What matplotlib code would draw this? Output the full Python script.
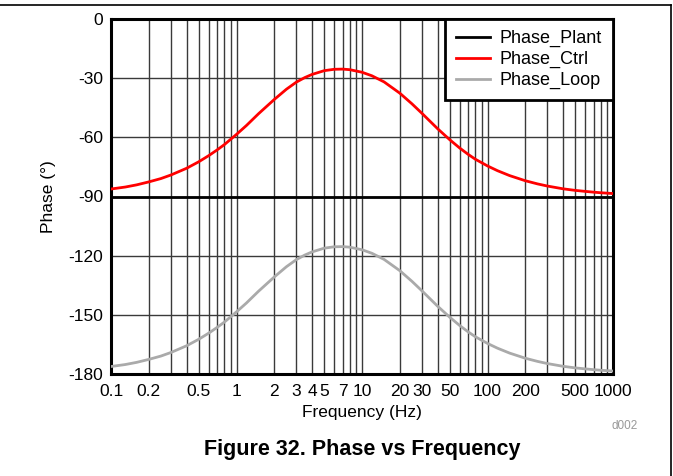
import numpy as np
import matplotlib.pyplot as plt
from matplotlib.lines import Line2D

plt.rcParams['font.family'] = ['Liberation Sans', 'DejaVu Sans']
plt.rcParams['axes.unicode_minus'] = False

# data
freq = [0.1, 0.13, 0.16, 0.2, 0.25, 0.3, 0.4, 0.5, 0.6, 0.7, 0.8, 1.0, 1.2,
        1.5, 2.0, 2.5, 3.0, 3.5, 4.0, 5.0, 6.0, 7.0, 8.0, 10, 12, 15, 20, 25,
        30, 40, 50, 60, 70, 80, 100, 120, 150, 200, 250, 300, 400, 500, 600,
        700, 800, 1000]
phase_plant = [-90] * len(freq)
phase_ctrl = [-86.2, -85.2, -84.1, -82.6, -80.9, -79.1, -75.7, -72.4, -69.3,
              -66.4, -63.7, -58.5, -54.0, -48.0, -40.8, -35.6, -32.0, -29.7,
              -28.1, -26.2, -25.5, -25.4, -25.7, -27.0, -28.8, -31.9, -37.6,
              -43.0, -47.8, -55.6, -61.2, -65.4, -68.6, -71.1, -74.5, -76.9,
              -79.4, -82.0, -83.6, -84.7, -86.1, -86.9, -87.4, -87.8, -88.1,
              -88.5]
phase_loop = [-176.2, -175.2, -174.1, -172.6, -170.9, -169.1, -165.7, -162.4,
              -159.3, -156.4, -153.7, -148.5, -144.0, -138.0, -130.8, -125.6,
              -122.0, -119.7, -118.1, -116.2, -115.5, -115.4, -115.7, -117.0,
              -118.8, -121.9, -127.6, -133.0, -137.8, -145.6, -151.2, -155.4,
              -158.6, -161.1, -164.5, -166.9, -169.4, -172.0, -173.6, -174.7,
              -176.1, -176.9, -177.4, -177.8, -178.1, -178.5]

xticks = [0.1, 0.2, 0.5, 1, 2, 3, 4, 5, 7, 10, 20, 30, 50, 100, 200, 500, 1000]
xtick_labels = ['0.1', '0.2', '0.5', '1', '2', '3', '4', '5', '7', '10', '20',
                '30', '50', '100', '200', '500', '1000']
yticks = [0, -30, -60, -90, -120, -150, -180]

fig = plt.figure(figsize=(6.73, 4.76), dpi=100)
ax = fig.add_axes([111/673, 1 - 374/476, 502/673, 355/476])

# grid lines
for dec in [0.1, 1, 10, 100]:
    for k in range(1, 10):
        ax.axvline(dec * k, color='#3a3a3a', lw=1.0, zorder=1)
for yv in yticks:
    ax.axhline(yv, color='#3a3a3a', lw=1.0, zorder=1)

ax.plot(freq, phase_plant, color='black', lw=2.0, label='Phase_Plant', zorder=3)
ax.plot(freq, phase_ctrl, color='#ff0000', lw=2.0, label='Phase_Ctrl', zorder=3)
ax.plot(freq, phase_loop, color='#aaaaaa', lw=2.0, label='Phase_Loop', zorder=3)

ax.set_xscale('log')
ax.set_xlim(0.1, 1000)
ax.set_ylim(-180, 0)
ax.set_xticks(xticks)
ax.set_xticklabels(xtick_labels)
ax.minorticks_off()
ax.set_yticks(yticks)
ax.tick_params(length=0, labelsize=12.5)
ax.tick_params(axis='x', pad=7)
ax.tick_params(axis='y', pad=5.5)
for s in ax.spines.values():
    s.set_linewidth(2.2)

ax.set_xlabel('Frequency (Hz)', fontsize=12.5)
ax.set_ylabel('Phase (°)', fontsize=12.5)
ax.xaxis.set_label_coords(251/502, -31/355)
ax.yaxis.set_label_coords(-55/502, 0.5)

leg = ax.legend(loc='upper right', fontsize=13, frameon=True, fancybox=False,
                borderaxespad=0, handlelength=1.9, handletextpad=0.55,
                labelspacing=0.22, borderpad=0.6)
leg.get_frame().set_edgecolor('black')
leg.get_frame().set_linewidth(2.0)
leg.get_frame().set_alpha(1)

fig.text(625/673, 1 - 426/476, 'd002', color='#999999', fontsize=8.5,
         ha='center', va='center')
fig.text(362/673, 1 - 450/476, 'Figure 32. Phase vs Frequency',
         fontsize=15.5, fontweight='bold', ha='center', va='center')

# outer frame (top and right edges)
fig.add_artist(Line2D([0, 671/673], [1 - 5/476, 1 - 5/476], color='black', lw=1.2))
fig.add_artist(Line2D([671/673, 671/673], [1 - 5/476, 0], color='black', lw=1.2))

fig.savefig('out.png', dpi=100)
